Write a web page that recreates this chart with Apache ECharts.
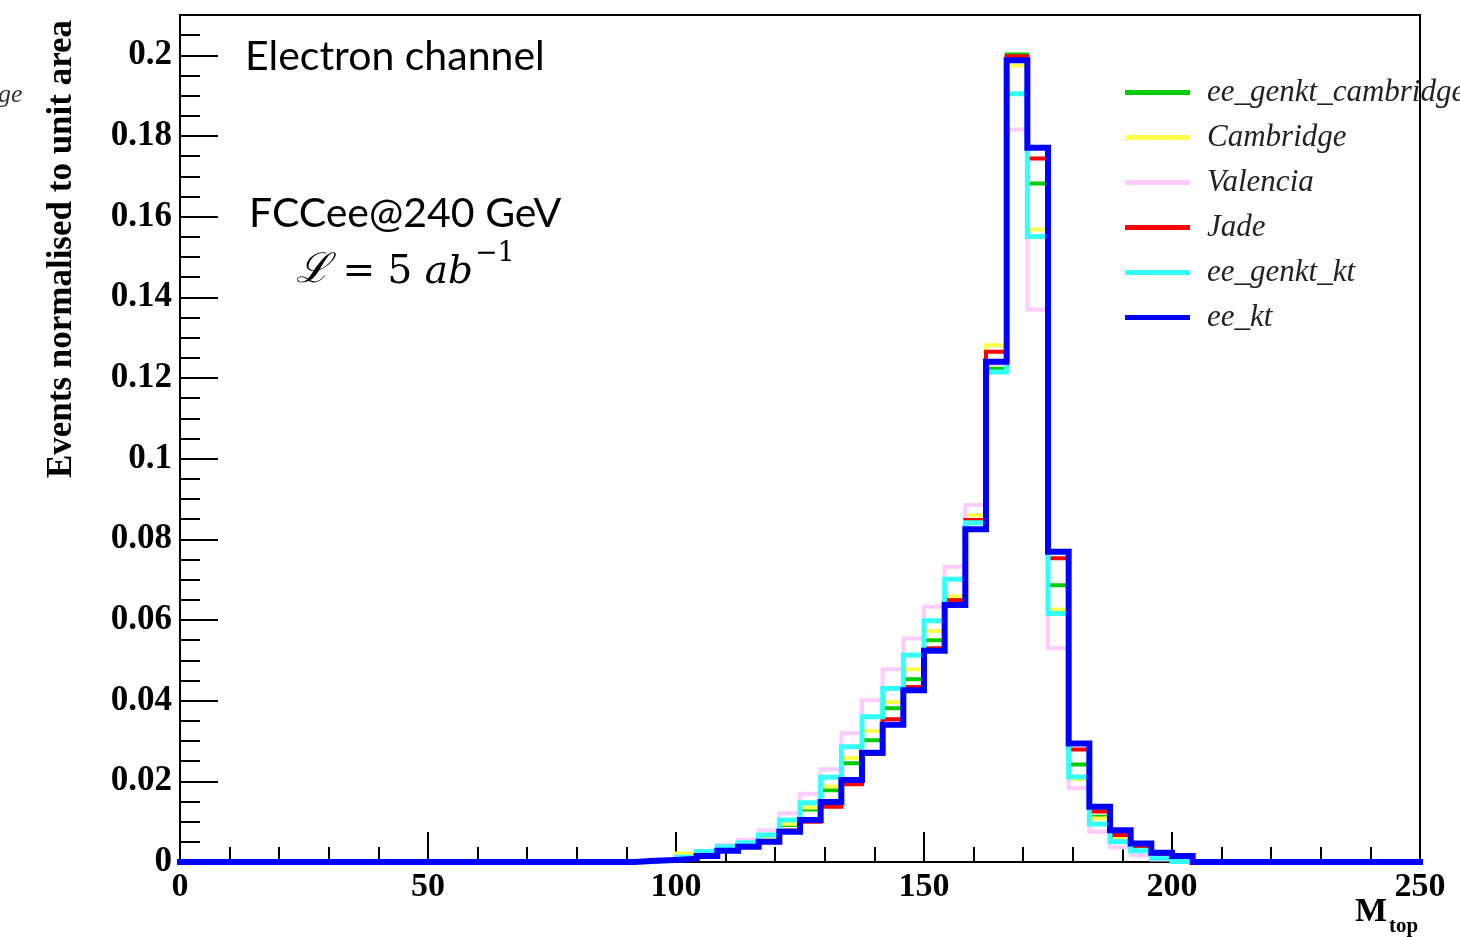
<!DOCTYPE html>
<html><head><meta charset="utf-8">
<script src="https://cdn.jsdelivr.net/npm/echarts@6/dist/echarts.min.js"></script>
<style>html,body{margin:0;padding:0;background:#fff}#c{width:1460px;height:937px}</style>
</head><body><div id="c"></div>
<script>
// Histogram: 60 bins from 0 to 250 (M_top), only bins 22..49 are non-empty
const X_MIN = 0, X_MAX = 250, N_BINS = 60;
const FIRST_BIN = 22;
const seriesNames = ['ee_genkt_cambridge', 'Cambridge', 'Valencia', 'Jade', 'ee_genkt_kt', 'ee_kt'];
const seriesColors = ['#00cc00', '#ffff4d', '#ffccff', '#ff0000', '#33ffff', '#0000ff'];
const seriesWidths = [4, 4, 4, 4, 5, 6];

// values for bins 22..49
const ee_genkt_cambridge = [0.0002,0.0005,0.0010,0.0022,0.0033,0.0043,0.0058,0.0092,0.0130,0.0178,0.0245,0.0302,0.0381,0.0453,0.0550,0.0655,0.0845,0.1223,0.2002,0.1682,0.0686,0.0242,0.0112,0.0065,0.0035,0.0015,0.0005,0];
const Cambridge          = [0.0002,0.0005,0.0021,0.0024,0.0035,0.0045,0.0062,0.0095,0.0135,0.0187,0.0258,0.0325,0.0397,0.0478,0.0573,0.0659,0.0860,0.1281,0.1975,0.1568,0.0626,0.0205,0.0108,0.0060,0.0030,0.0012,0.0003,0];
const Valencia           = [0.0002,0.0005,0.0013,0.0027,0.0042,0.0055,0.0079,0.0121,0.0169,0.0230,0.0319,0.0401,0.0478,0.0554,0.0633,0.0732,0.0885,0.1235,0.1816,0.1370,0.0530,0.0183,0.0075,0.0036,0.0017,0.0006,0.0001,0];
const Jade               = [0.0002,0.0004,0.0008,0.0016,0.0027,0.0037,0.0050,0.0078,0.0100,0.0137,0.0193,0.0268,0.0354,0.0434,0.0530,0.0649,0.0848,0.1265,0.1998,0.1744,0.0753,0.0279,0.0125,0.0067,0.0040,0.0020,0.0010,0];
const ee_genkt_kt        = [0.0002,0.0005,0.0012,0.0026,0.0038,0.0048,0.0067,0.0104,0.0147,0.0210,0.0286,0.0360,0.0430,0.0513,0.0598,0.0701,0.0841,0.1215,0.1905,0.1551,0.0616,0.0211,0.0094,0.0050,0.0028,0.0009,0.0001,0];
const ee_kt              = [0.0003,0.0005,0.0008,0.0015,0.0028,0.0038,0.0050,0.0075,0.0104,0.0149,0.0203,0.0271,0.0340,0.0426,0.0524,0.0637,0.0825,0.1240,0.1988,0.1771,0.0769,0.0294,0.0137,0.0079,0.0046,0.0023,0.0015,0];
const seriesValues = [ee_genkt_cambridge, Cambridge, Valencia, Jade, ee_genkt_kt, ee_kt];

const Y_MIN = 0, Y_MAX = 0.21, Y_MAJOR = 0.02, Y_MINOR = 0.005;
const X_MAJOR = 50, X_MINOR = 10;

function histPoints(vals) {
  const w = (X_MAX - X_MIN) / N_BINS;
  const pts = [];
  let last = 0;
  for (let i = 0; i < N_BINS; i++) {
    const k = i - FIRST_BIN;
    const v = (k >= 0 && k < vals.length) ? vals[k] : 0;
    pts.push([X_MIN + i * w, v]);
    last = v;
  }
  pts.push([X_MAX, last]);
  return pts;
}

const serif = 'Liberation Serif';
const chart = echarts.init(document.getElementById('c'), null, {renderer: 'canvas'});
const tickStyle = {color: '#000', width: 2};

chart.setOption({
  animation: false,
  backgroundColor: '#fff',
  grid: {left: 180, right: 40, top: 15, bottom: 75, show: true, borderColor: '#000', borderWidth: 2, backgroundColor: 'transparent'},
  xAxis: [
    {type: 'value', min: X_MIN, max: X_MAX, interval: X_MAJOR, position: 'bottom',
     axisLine: {show: true, lineStyle: tickStyle}, splitLine: {show: false},
     axisTick: {show: true, inside: true, length: 30, lineStyle: tickStyle},
     axisLabel: {show: true, margin: 8, fontFamily: serif, fontWeight: 'bold', fontSize: 34, color: '#000'}},
    {type: 'value', min: X_MIN, max: X_MAX, interval: X_MINOR, position: 'bottom',
     axisLine: {show: false}, splitLine: {show: false}, axisLabel: {show: false},
     axisTick: {show: true, inside: true, length: 15, lineStyle: tickStyle}}
  ],
  yAxis: [
    {type: 'value', min: Y_MIN, max: Y_MAX, interval: Y_MAJOR, position: 'left',
     axisLine: {show: true, lineStyle: tickStyle}, splitLine: {show: false},
     axisTick: {show: true, inside: true, length: 38, lineStyle: tickStyle},
     axisLabel: {show: true, margin: 8, fontFamily: serif, fontWeight: 'bold', fontSize: 35, color: '#000',
       formatter: v => (v > Y_MAX - 1e-9 ? '' : (v === 0 ? '0' : String(+v.toFixed(3))))}},
    {type: 'value', min: Y_MIN, max: Y_MAX, interval: Y_MINOR, position: 'left',
     axisLine: {show: false}, splitLine: {show: false}, axisLabel: {show: false},
     axisTick: {show: true, inside: true, length: 20, lineStyle: tickStyle}}
  ],
  legend: {
    orient: 'vertical', left: 1120, top: 72, itemWidth: 65, itemHeight: 5, itemGap: 14,
    icon: 'rect', data: seriesNames,
    textStyle: {fontFamily: serif, fontStyle: 'italic', fontSize: 31, color: '#222', lineHeight: 30, padding: [0, 0, 0, 12]}
  },
  series: seriesNames.map((n, i) => ({
    name: n, type: 'line', step: 'end', xAxisIndex: 0, yAxisIndex: 0,
    data: histPoints(seriesValues[i]), showSymbol: false, symbol: 'none', clip: false,
    lineStyle: {color: seriesColors[i], width: seriesWidths[i], join: 'miter', cap: 'square'},
    itemStyle: {color: seriesColors[i]}, z: 2 + i * 0.01
  })),
  graphic: [
    {type: 'text', left: 245, top: 36, style: {text: 'Electron channel', font: '41px Lato', fill: '#000'}},
    {type: 'text', left: 249, top: 193, style: {text: 'FCCee@240 GeV', font: '41px Lato', fill: '#000'}},
    {type: 'text', left: 296, top: 240, style: {
      text: '{l|ℒ}{n| = 5 }{i|ab}{s|−1}',
      rich: {
        l: {fontFamily: 'DejaVu Serif', fontStyle: 'italic', fontSize: 41, fill: '#000', verticalAlign: 'bottom', lineHeight: 52},
        n: {fontFamily: 'DejaVu Serif', fontSize: 39, fill: '#000', verticalAlign: 'bottom', lineHeight: 52},
        i: {fontFamily: 'DejaVu Serif', fontStyle: 'italic', fontSize: 39, fill: '#000', verticalAlign: 'bottom', lineHeight: 52},
        s: {fontFamily: 'DejaVu Serif', fontSize: 27, fill: '#000', verticalAlign: 'top', lineHeight: 52, padding: [0, 0, 24, 2]}
      }}},
    {type: 'text', x: 62, y: 249, rotation: Math.PI / 2, style: {
      text: 'Events normalised to unit area', font: 'bold 35px "Liberation Serif"', fill: '#000',
      align: 'center', verticalAlign: 'middle'}},
    {type: 'text', left: 1355, top: 895, style: {text: 'M', font: 'bold 34px "Liberation Serif"', fill: '#000'}},
    {type: 'text', left: 1389, top: 916, style: {text: 'top', font: 'bold 21px "Liberation Serif"', fill: '#000'}},
    {type: 'text', left: -2, top: 82, style: {text: 'ge', font: 'italic 26px "Liberation Serif"', fill: '#333'}}
  ]
});
</script></body></html>
